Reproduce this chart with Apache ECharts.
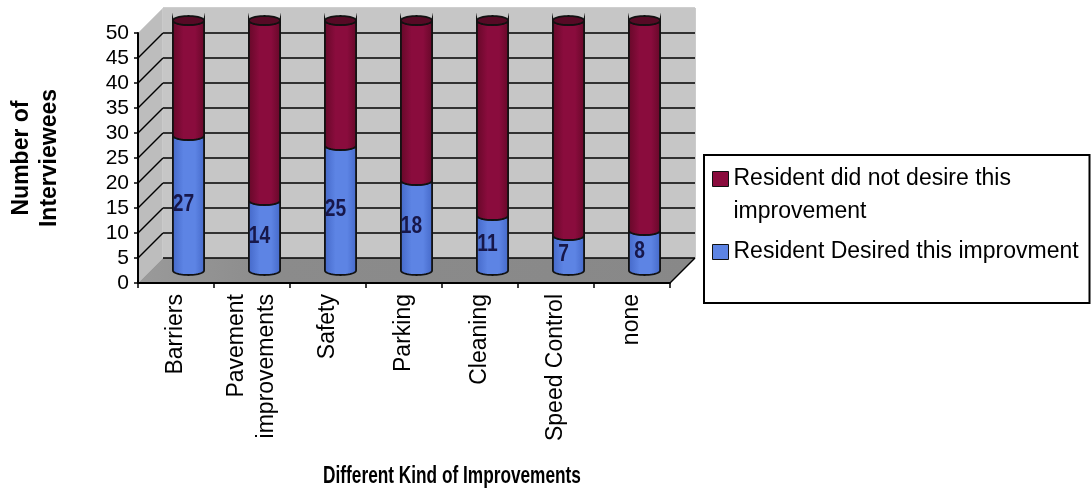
<!DOCTYPE html>
<html>
<head>
<meta charset="utf-8">
<script src="https://cdn.jsdelivr.net/npm/echarts@6/dist/echarts.min.js"></script>
<style>
  html, body { margin: 0; padding: 0; background: #ffffff; }
  #chart { width: 1091px; height: 499px; }
</style>
</head>
<body>
<div id="chart"></div>
<script>
// ---- data ----
const categories = ['Barriers', 'Pavement\nimprovements', 'Safety', 'Parking', 'Cleaning', 'Speed Control', 'none'];
const desired    = [27, 14, 25, 18, 11, 7, 8];
const notDesired = [23, 36, 25, 32, 39, 43, 42];
const seriesNames = ['Resident did not desire this improvement', 'Resident Desired this improvment'];
const xTitle = 'Different Kind of Improvements';
const yTitle = 'Number of\nInterviewees';
const yMin = 0, yMax = 50, yStep = 5;

// ---- look ----
const FONT = '"Liberation Sans", Arial, sans-serif';
const DX = 25, DY = -25;              // depth offset of the back wall from the front plane
const FRONT = { left: 138, top: 33, width: 532, height: 250 };
const BAR_RATIO = 0.41;
const RY = 4.5;
const BLUE = '#5d84e4', MAROON = '#8a0c3d', CAP = '#560a25';

function shifted(g, f) {
  return { left: g.left + DX * f, top: g.top + DY * f, width: g.width, height: g.height };
}

function lowerArc(cx, cy, rx, from, to, n) {
  const pts = [];
  for (let k = 0; k <= n; k++) {
    const t = from + (to - from) * k / n;
    pts.push([cx + rx * Math.cos(t), cy + RY * Math.sin(t)]);
  }
  return pts;
}

// walls and floor of the 3D box, drawn in the front plane's coordinates
function renderFrame(params, api) {
  const cs = params.coordSys;
  const x0 = cs.x, x1 = cs.x + cs.width, y0 = cs.y, y1 = cs.y + cs.height;
  const children = [];
  children.push({
    type: 'polygon',
    shape: { points: [[x0, y0], [x0 + DX, y0 + DY], [x0 + DX, y1 + DY], [x0, y1]] },
    style: { fill: '#bdbdbd', stroke: '#d6d6d6', lineWidth: 1 }
  });
  for (let v = yMin + yStep; v < yMax; v += yStep) {
    const y = api.coord([0, v])[1];
    children.push({
      type: 'line',
      shape: { x1: x0, y1: y, x2: x0 + DX, y2: y + DY },
      style: { stroke: '#000', lineWidth: 1.5 }
    });
  }
  children.push({
    type: 'polygon',
    shape: { points: [[x0, y1], [x1, y1], [x1 + DX, y1 + DY], [x0 + DX, y1 + DY]] },
    style: {
      fill: new echarts.graphic.LinearGradient(0, 0, 1, 0, [
        { offset: 0, color: '#9a9a9a' }, { offset: 0.25, color: '#8b8b8b' }, { offset: 1, color: '#888888' }
      ])
    }
  });
  children.push({
    type: 'line',
    shape: { x1: x1, y1: y1, x2: x1 + DX, y2: y1 + DY },
    style: { stroke: '#000', lineWidth: 1.5 }
  });
  children.push({
    type: 'line',
    shape: { x1: x1 + DX, y1: y0 + DY, x2: x1 + DX, y2: y1 + DY },
    style: { stroke: '#9a9a9a', lineWidth: 1 }
  });
  children.push({
    type: 'line',
    shape: { x1: x0 + DX, y1: y0 + DY, x2: x1 + DX, y2: y0 + DY },
    style: { stroke: '#d8d8d8', lineWidth: 1 }
  });
  return { type: 'group', children: children };
}

function makeCylinder(color, dark, withCap, withLabel) {
  return function (params, api) {
    const i = api.value(0), lo = api.value(1), hi = api.value(2);
    const b = api.coord([i, lo]);
    const t = api.coord([i, hi]);
    const rx = api.size([1, 0])[0] * BAR_RATIO / 2;
    const cx = b[0], yb = b[1], yt = t[1];
    const pts = [[cx - rx, yt]]
      .concat(lowerArc(cx, yb, rx, Math.PI, 0, 24))
      .concat(lowerArc(cx, yt, rx, 0, Math.PI, 24));
    const fill = new echarts.graphic.LinearGradient(0, 0, 1, 0, [
      { offset: 0, color: dark },
      { offset: 0.35, color: color },
      { offset: 0.7, color: color },
      { offset: 1, color: dark }
    ]);
    const children = [{
      type: 'polygon',
      shape: { points: pts },
      style: { fill: fill, stroke: '#111', lineWidth: 1.8 }
    }];
    if (withCap) {
      const cap = lowerArc(cx, yt, rx, 0, Math.PI * 2, 48);
      children.push({
        type: 'polygon',
        shape: { points: cap },
        style: { fill: CAP, stroke: '#111', lineWidth: 1.8 }
      });
    }
    if (withLabel) {
      children.push({
        type: 'text',
        x: cx - 5,
        y: (yb + yt) / 2 + 1,
        scaleX: 0.8,
        style: {
          text: String(hi - lo),
          fontFamily: FONT, fontSize: 24, fontWeight: 'bold',
          fill: '#17174a', align: 'center', verticalAlign: 'middle'
        }
      });
    }
    return { type: 'group', children: children };
  };
}

const chart = echarts.init(document.getElementById('chart'), null, { renderer: 'canvas' });

const hiddenCat = (gi) => ({ gridIndex: gi, type: 'category', data: categories, show: false });
const hiddenVal = (gi) => ({ gridIndex: gi, type: 'value', min: yMin, max: yMax, interval: yStep, show: false });

const gridLineColors = [];
for (let v = yMin; v <= yMax; v += yStep) gridLineColors.push(v === yMax ? '#c6c6c6' : '#000');

chart.setOption({
  animation: false,
  backgroundColor: '#ffffff',
  grid: [
    Object.assign(shifted(FRONT, 1), { show: true, backgroundColor: '#c6c6c6', borderWidth: 0 }),
    Object.assign({}, FRONT),
    shifted(FRONT, 0.5)
  ],
  xAxis: [
    hiddenCat(0),
    {
      gridIndex: 1, type: 'category', data: categories,
      axisLine: { show: true, lineStyle: { color: '#000', width: 2 } },
      axisTick: { show: true, length: 5, lineStyle: { color: '#000', width: 1.5 } },
      axisLabel: { rotate: 90, margin: 11, fontFamily: FONT, fontSize: 23, color: '#000', lineHeight: 30 }
    },
    hiddenCat(2)
  ],
  yAxis: [
    {
      gridIndex: 0, type: 'value', min: yMin, max: yMax, interval: yStep,
      axisLine: { show: false }, axisTick: { show: false }, axisLabel: { show: false },
      splitLine: { show: true, lineStyle: { color: gridLineColors, width: 1.5 } }
    },
    {
      gridIndex: 1, type: 'value', min: yMin, max: yMax, interval: yStep,
      axisLine: { show: true, lineStyle: { color: '#000', width: 2 } },
      axisTick: { show: true, length: 4, lineStyle: { color: '#000', width: 1.5 } },
      axisLabel: { margin: 9, fontFamily: FONT, fontSize: 21, color: '#000' },
      splitLine: { show: false },
      name: yTitle,
      nameLocation: 'middle', nameGap: 74, nameRotate: 90,
      nameTextStyle: { fontFamily: FONT, fontWeight: 'bold', fontSize: 23, lineHeight: 28, color: '#000' }
    },
    hiddenVal(2)
  ],
  graphic: [{
    type: 'text',
    x: 452, y: 477,
    scaleX: 0.75,
    style: {
      text: xTitle,
      fontFamily: FONT, fontWeight: 'bold', fontSize: 23,
      fill: '#000', align: 'center', verticalAlign: 'middle'
    }
  }],
  legend: {
    data: [
      { name: seriesNames[0], icon: 'path://M0,0h16v15h-16z M16,47' },
      { name: seriesNames[1], icon: 'path://M0,16h16v15h-16z M0,0 M16,47' }
    ],
    orient: 'vertical',
    left: 704, top: 155,
    padding: [7, 6, 27, 8],
    itemGap: 0,
    itemWidth: 16, itemHeight: 47,
    backgroundColor: '#ffffff',
    borderColor: '#000', borderWidth: 2, borderRadius: 0,
    itemStyle: { borderColor: '#111', borderWidth: 1 },
    textStyle: {
      fontFamily: FONT, fontSize: 23, color: '#000', lineHeight: 33,
      width: 350, overflow: 'break'
    },
    selectedMode: false
  },
  series: [
    {
      type: 'custom', name: 'frame', silent: true, z: -1,
      xAxisIndex: 1, yAxisIndex: 1,
      renderItem: renderFrame,
      data: [[0, 0]]
    },
    {
      type: 'custom', name: seriesNames[1],
      xAxisIndex: 2, yAxisIndex: 2,
      itemStyle: { color: BLUE },
      encode: { x: 0, y: [1, 2] },
      renderItem: makeCylinder(BLUE, '#4468c8', false, true),
      data: categories.map((c, i) => [i, 0, desired[i]])
    },
    {
      type: 'custom', name: seriesNames[0],
      xAxisIndex: 2, yAxisIndex: 2,
      itemStyle: { color: MAROON },
      encode: { x: 0, y: [1, 2] },
      renderItem: makeCylinder(MAROON, '#650828', true, false),
      data: categories.map((c, i) => [i, desired[i], desired[i] + notDesired[i]])
    }
  ]
});
</script>
</body>
</html>
